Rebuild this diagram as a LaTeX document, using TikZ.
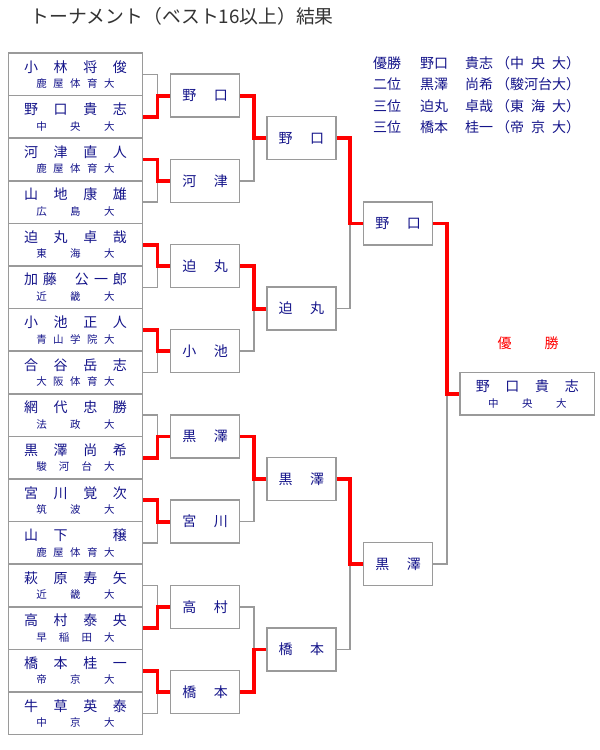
\documentclass[tikz,border=0pt]{standalone}
\usepackage{fontspec}
\setmainfont{Noto Sans CJK JP}
\usetikzlibrary{positioning}
\definecolor{Frame}{HTML}{9A9A9A}
\definecolor{Navy}{HTML}{14148A}
\definecolor{WinRed}{HTML}{FF0000}
\definecolor{Heading}{HTML}{333333}
\newcommand\namefont{\fontsize{14pt}{16pt}\selectfont}
\newcommand\schoolfont{\fontsize{10.5pt}{12pt}\selectfont}
\newcommand\entrant[2]{{\namefont\makebox[103pt]{#1}}\\[3.5pt]{\schoolfont\makebox[78.5pt]{#2}}}
\newcommand\advancer[1]{\makebox[45.5pt]{#1}}
\tikzset{player/.style={rectangle,draw=Frame,line width=1.5pt,fill=white,minimum width=134.4pt,minimum height=42.6pt,inner sep=0pt,align=center,text=Navy},roundbox/.style={rectangle,draw=Frame,line width=1.5pt,fill=white,minimum width=69pt,minimum height=43pt,inner sep=0pt,text=Navy,font=\namefont},lost/.style={draw=Frame,line width=1.5pt},won/.style={draw=WinRed,line width=3.8pt}}

\begin{document}
\begin{tikzpicture}[x=1pt,y=-1pt]
\useasboundingbox (0,0) rectangle (600,750);
\fill[white] (0,0) rectangle (600,750);
\node[anchor=west,text=Heading,font=\fontsize{18.8pt}{22pt}\selectfont] (title) at (27,16) {トーナメント（ベスト16以上）結果};
\node[anchor=north west,inner sep=0pt,text=Navy,font=\fontsize{14pt}{21.5pt}\selectfont] (standings) at (373,53) {\begin{tabular}{@{}l@{\hspace{19pt}}l@{\hspace{17pt}}l@{\hspace{3pt}}l@{}}
優勝&野口&貴志&（\makebox[4em]{中\hfill 央\hfill 大}）\\
二位&黒澤&尚希&（駿河台大）\\
三位&迫丸&卓哉&（\makebox[4em]{東\hfill 海\hfill 大}）\\
三位&橋本&桂一&（\makebox[4em]{帝\hfill 京\hfill 大}）
\end{tabular}};
% first round
\node[player] (p1) at (75.5,74.3) {\entrant{小\hfill 林\hfill 将\hfill 俊}{鹿\hfill 屋\hfill 体\hfill 育\hfill 大}};
\node[player] (p2) at (75.5,116.9) {\entrant{野\hfill 口\hfill 貴\hfill 志}{中\hfill 央\hfill 大}};
\node[player] (p3) at (75.5,159.5) {\entrant{河\hfill 津\hfill 直\hfill 人}{鹿\hfill 屋\hfill 体\hfill 育\hfill 大}};
\node[player] (p4) at (75.5,202.1) {\entrant{山\hfill 地\hfill 康\hfill 雄}{広\hfill 島\hfill 大}};
\node[player] (p5) at (75.5,244.7) {\entrant{迫\hfill 丸\hfill 卓\hfill 哉}{東\hfill 海\hfill 大}};
\node[player] (p6) at (75.5,287.3) {\entrant{加\kern5pt 藤\hfill 公\kern5pt 一\kern5pt 郎}{近\hfill 畿\hfill 大}};
\node[player] (p7) at (75.5,329.9) {\entrant{小\hfill 池\hfill 正\hfill 人}{青\hfill 山\hfill 学\hfill 院\hfill 大}};
\node[player] (p8) at (75.5,372.5) {\entrant{合\hfill 谷\hfill 岳\hfill 志}{大\hfill 阪\hfill 体\hfill 育\hfill 大}};
\node[player] (p9) at (75.5,415.1) {\entrant{網\hfill 代\hfill 忠\hfill 勝}{法\hfill 政\hfill 大}};
\node[player] (p10) at (75.5,457.7) {\entrant{黒\hfill 澤\hfill 尚\hfill 希}{駿\hfill 河\hfill 台\hfill 大}};
\node[player] (p11) at (75.5,500.3) {\entrant{宮\hfill 川\hfill 覚\hfill 次}{筑\hfill 波\hfill 大}};
\node[player] (p12) at (75.5,542.9) {\entrant{山\hfill 下\hfill\makebox[1em]{}\hfill 穣}{鹿\hfill 屋\hfill 体\hfill 育\hfill 大}};
\node[player] (p13) at (75.5,585.5) {\entrant{萩\hfill 原\hfill 寿\hfill 矢}{近\hfill 畿\hfill 大}};
\node[player] (p14) at (75.5,628.1) {\entrant{高\hfill 村\hfill 泰\hfill 央}{早\hfill 稲\hfill 田\hfill 大}};
\node[player] (p15) at (75.5,670.7) {\entrant{橋\hfill 本\hfill 桂\hfill 一}{帝\hfill 京\hfill 大}};
\node[player] (p16) at (75.5,713.3) {\entrant{牛\hfill 草\hfill 英\hfill 泰}{中\hfill 京\hfill 大}};
% best 8, best 4, final
\node[roundbox] (q1) at (205.2,95.6) {\advancer{野\hfill 口}};\node[roundbox] (q2) at (205.2,180.8) {\advancer{河\hfill 津}};
\node[roundbox] (q3) at (205.2,266.0) {\advancer{迫\hfill 丸}};\node[roundbox] (q4) at (205.2,351.2) {\advancer{小\hfill 池}};
\node[roundbox] (q5) at (205.2,436.4) {\advancer{黒\hfill 澤}};\node[roundbox] (q6) at (205.2,521.6) {\advancer{宮\hfill 川}};
\node[roundbox] (q7) at (205.2,606.8) {\advancer{高\hfill 村}};\node[roundbox] (q8) at (205.2,692.0) {\advancer{橋\hfill 本}};
\node[roundbox] (s1) at (301.3,138.2) {\advancer{野\hfill 口}};\node[roundbox] (s2) at (301.3,308.6) {\advancer{迫\hfill 丸}};
\node[roundbox] (s3) at (301.3,479.0) {\advancer{黒\hfill 澤}};\node[roundbox] (s4) at (301.3,649.4) {\advancer{橋\hfill 本}};
\node[roundbox] (f1) at (398,223.4) {\advancer{野\hfill 口}};\node[roundbox] (f2) at (398,564.2) {\advancer{黒\hfill 澤}};
\node[player] (champ) at (527.3,393.8) {\entrant{野\hfill 口\hfill 貴\hfill 志}{中\hfill 央\hfill 大}};
\node[text=WinRed,font=\fontsize{14pt}{16pt}\selectfont] (champlabel) at (528,343) {\makebox[61pt]{優\hfill 勝}};
% brackets: grey for the loser, red for the winner
\draw[lost] (p1.east) -- ++(14,0) |- (q1.west);\draw[won] (p2.east) -- ++(14,0) |- (q1.west);
\draw[lost] (p4.east) -- ++(14,0) |- (q2.west);\draw[won] (p3.east) -- ++(14,0) |- (q2.west);
\draw[lost] (p6.east) -- ++(14,0) |- (q3.west);\draw[won] (p5.east) -- ++(14,0) |- (q3.west);
\draw[lost] (p8.east) -- ++(14,0) |- (q4.west);\draw[won] (p7.east) -- ++(14,0) |- (q4.west);
\draw[lost] (p9.east) -- ++(14,0) |- (q5.west);\draw[won] (p10.east) -- ++(14,0) |- (q5.west);
\draw[lost] (p12.east) -- ++(14,0) |- (q6.west);\draw[won] (p11.east) -- ++(14,0) |- (q6.west);
\draw[lost] (p13.east) -- ++(14,0) |- (q7.west);\draw[won] (p14.east) -- ++(14,0) |- (q7.west);
\draw[lost] (p16.east) -- ++(14,0) |- (q8.west);\draw[won] (p15.east) -- ++(14,0) |- (q8.west);
\draw[lost] (q2.east) -- ++(13.5,0) |- (s1.west);\draw[won] (q1.east) -- ++(13.5,0) |- (s1.west);
\draw[lost] (q4.east) -- ++(13.5,0) |- (s2.west);\draw[won] (q3.east) -- ++(13.5,0) |- (s2.west);
\draw[lost] (q6.east) -- ++(13.5,0) |- (s3.west);\draw[won] (q5.east) -- ++(13.5,0) |- (s3.west);
\draw[lost] (q7.east) -- ++(13.5,0) |- (s4.west);\draw[won] (q8.east) -- ++(13.5,0) |- (s4.west);
\draw[lost] (s2.east) -- ++(13.5,0) |- (f1.west);\draw[won] (s1.east) -- ++(13.5,0) |- (f1.west);
\draw[lost] (s4.east) -- ++(13.5,0) |- (f2.west);\draw[won] (s3.east) -- ++(13.5,0) |- (f2.west);
\draw[lost] (f2.east) -- ++(13.5,0) |- (champ.west);\draw[won] (f1.east) -- ++(13.5,0) |- (champ.west);
\end{tikzpicture}
\end{document}
